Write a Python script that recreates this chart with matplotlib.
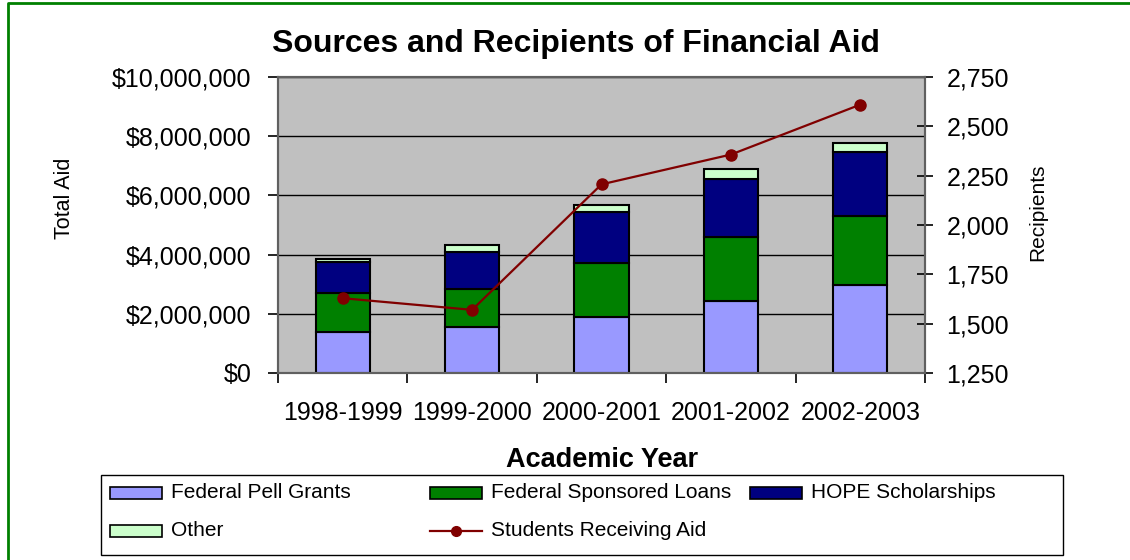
import matplotlib
matplotlib.use("Agg")
import matplotlib.pyplot as plt
from matplotlib.patches import Rectangle
from matplotlib.lines import Line2D
from matplotlib.ticker import FuncFormatter, FixedLocator

plt.rcParams["font.family"] = ["Liberation Sans", "DejaVu Sans"]

# ── Data ──────────────────────────────────────────────────────────────
years    = ["1998-1999", "1999-2000", "2000-2001", "2001-2002", "2002-2003"]
pell     = [1.40e6, 1.54e6, 1.89e6, 2.42e6, 2.96e6]
loans    = [1.29e6, 1.29e6, 1.82e6, 2.17e6, 2.36e6]
hope     = [1.07e6, 1.27e6, 1.74e6, 1.95e6, 2.16e6]
other    = [0.09e6, 0.225e6, 0.225e6, 0.35e6, 0.28e6]
students = [1629, 1570, 2206, 2357, 2610]

series = [
    ("Federal Pell Grants",     pell,  "#9999FF"),
    ("Federal Sponsored Loans", loans, "#008000"),
    ("HOPE Scholarships",       hope,  "#000080"),
    ("Other",                   other, "#CCFFCC"),
]
LINE_C = "#800000"

W, H = 1130, 560
fig = plt.figure(figsize=(W / 100, H / 100), dpi=100)


def fx(x):
    return x / W


def fy(y):
    return 1 - y / H


ax = fig.add_axes([fx(278), fy(373), fx(925) - fx(278), fy(77) - fy(373)])
ax.set_facecolor("#C0C0C0")

xs = list(range(len(years)))
bottom = [0.0] * len(years)
for name, vals, col in series:
    ax.bar(xs, vals, width=0.42, bottom=bottom, color=col,
           edgecolor="black", linewidth=1.5, zorder=3)
    bottom = [b + v for b, v in zip(bottom, vals)]

ax.set_xlim(-0.5, len(years) - 0.5)
ax.set_ylim(0, 10e6)
ax.set_yticks([0, 2e6, 4e6, 6e6, 8e6, 10e6])
ax.yaxis.set_major_formatter(FuncFormatter(lambda v, p: f"${v:,.0f}"))
ax.grid(axis="y", color="black", linewidth=1.0, zorder=1)
ax.set_axisbelow(True)

ax.set_xticks(xs)
ax.set_xticklabels(years)
ax.xaxis.set_minor_locator(FixedLocator([i - 0.5 for i in range(len(years) + 1)]))
ax.tick_params(axis="x", which="major", length=0, pad=20, labelsize=18)
ax.tick_params(axis="x", which="minor", length=7, width=1.2, direction="out")
ax.tick_params(axis="y", length=7, width=1.2, direction="out", pad=12, labelsize=18)

for s in ax.spines.values():
    s.set_color("#606060")
    s.set_linewidth(1.5)

ax2 = ax.twinx()
ax2.plot(xs, students, color=LINE_C, linewidth=1.6, marker="o",
         markersize=8, zorder=5)
ax2.set_ylim(1250, 2750)
ax2.set_yticks([1250, 1500, 1750, 2000, 2250, 2500, 2750])
ax2.yaxis.set_major_formatter(FuncFormatter(lambda v, p: f"{v:,.0f}"))
ax2.tick_params(axis="y", length=11, width=1.2, direction="inout", pad=10, labelsize=18)
for s in ax2.spines.values():
    s.set_color("#606060")
    s.set_linewidth(1.5)

# ── Texts ─────────────────────────────────────────────────────────────
fig.text(fx(576), fy(44), "Sources and Recipients of Financial Aid",
         fontsize=23, fontweight="bold", ha="center", va="center")
fig.text(fx(602), fy(460), "Academic Year", fontsize=19.5,
         fontweight="bold", ha="center", va="center")
fig.text(fx(64), fy(198), "Total Aid", fontsize=15.5, rotation=90,
         ha="center", va="center")
fig.text(fx(1038), fy(212), "Recipients", fontsize=15, rotation=90,
         ha="center", va="center")

# ── Legend (manual, row-major like the original) ─────────────────────
fig.add_artist(Rectangle((fx(101), fy(555)), fx(1063) - fx(101), fy(475) - fy(555),
                         transform=fig.transFigure, facecolor="white",
                         edgecolor="black", linewidth=1.0))
slots = [(110, 493), (430, 493), (750, 493), (110, 531), (430, 531)]
for (name, vals, col), (lx, ly) in zip(series, slots):
    fig.add_artist(Rectangle((fx(lx), fy(ly + 6)), fx(52), 12 / H,
                             transform=fig.transFigure, facecolor=col,
                             edgecolor="black", linewidth=1.2))
    fig.text(fx(lx + 61), fy(ly), name, fontsize=15, va="center", ha="left")
lx, ly = slots[4]
fig.add_artist(Line2D([fx(lx), fx(lx + 52)], [fy(ly), fy(ly)],
                      transform=fig.transFigure, color=LINE_C, linewidth=1.6))
fig.add_artist(Line2D([fx(lx + 26)], [fy(ly)], transform=fig.transFigure,
                      color=LINE_C, marker="o", markersize=7))
fig.text(fx(lx + 61), fy(ly), "Students Receiving Aid", fontsize=15,
         va="center", ha="left")

# ── Green frame (left and top edges visible) ─────────────────────────
fig.add_artist(Line2D([fx(8), fx(8), 1.0], [0.0, fy(3), fy(3)],
                      transform=fig.transFigure, color="#008000", linewidth=2))

fig.savefig("out.png", dpi=100)
